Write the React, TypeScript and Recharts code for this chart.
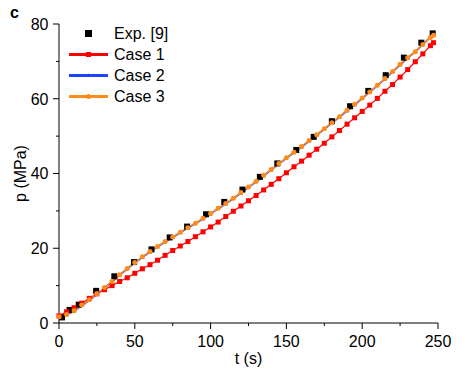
import React from "react";
import {
  ComposedChart,
  Line,
  Scatter,
  XAxis,
  YAxis,
  Legend,
} from "recharts";

const FONT = "'Liberation Sans', Arial, Helvetica, sans-serif";

// simulation time grid (s)
const SIM_T = [
  0, 5, 10, 15, 20, 25, 30, 35, 40, 45, 50, 55, 60, 65, 70, 75, 80, 85, 90, 95,
  100, 105, 110, 115, 120, 125, 130, 135, 140, 145, 150, 155, 160, 165, 170, 175,
  180, 185, 190, 195, 200, 205, 210, 215, 220, 225, 230, 235, 240, 245, 247,
];

// pressure (MPa)
const CASE1_P = [
  1.9, 3.0, 4.1, 5.3, 6.6, 7.8, 8.9, 10.0, 11.1, 12.1, 13.3, 14.5, 15.6, 16.8,
  18.1, 19.4, 20.6, 21.8, 23.1, 24.4, 25.7, 27.0, 28.5, 29.9, 31.3, 32.7, 34.1,
  35.6, 37.1, 38.6, 40.2, 41.8, 43.3, 44.9, 46.5, 48.1, 49.8, 51.5, 53.2, 54.9,
  56.6, 58.3, 60.1, 62.0, 63.8, 65.8, 67.8, 69.9, 72.0, 74.2, 75.0,
];
const CASE2_P = [
  1.6, 2.2, 3.2, 4.7, 6.1, 7.7, 9.4, 11.0, 12.8, 14.5, 16.1, 17.6, 19.0, 20.4,
  21.7, 22.9, 24.2, 25.4, 26.6, 27.9, 29.2, 30.6, 31.9, 33.3, 34.8, 36.3, 37.8,
  39.4, 41.0, 42.6, 44.1, 45.6, 47.1, 48.7, 50.3, 51.9, 53.5, 55.1, 56.8, 58.4,
  60.1, 61.8, 63.5, 65.3, 67.2, 69.1, 70.9, 72.6, 74.5, 76.5, 77.2,
];
const CASE3_P = [
  1.7, 2.3, 3.3, 4.8, 6.2, 7.8, 9.5, 11.1, 12.9, 14.6, 16.2, 17.7, 19.1, 20.5,
  21.8, 23.0, 24.3, 25.5, 26.7, 28.0, 29.3, 30.7, 32.0, 33.4, 34.9, 36.4, 37.9,
  39.5, 41.1, 42.7, 44.2, 45.7, 47.2, 48.8, 50.4, 52.0, 53.6, 55.2, 56.9, 58.5,
  60.2, 61.8, 63.6, 65.4, 67.3, 69.2, 71.0, 72.6, 74.5, 76.4, 77.0,
];

// experiment [9]
const EXP_T = [
  2, 7, 13, 24.5, 36.5, 49.5, 61, 73, 84.5, 97, 109, 121, 132.5, 144, 156.5,
  168, 180, 192, 204, 215.5, 227.5, 239, 246.5,
];
const EXP_P = [
  1.5, 3.5, 4.9, 8.6, 12.5, 16.3, 19.7, 22.9, 25.8, 29.1, 32.4, 35.7, 39.1,
  42.7, 46.3, 49.8, 54.0, 58.0, 62.1, 66.3, 71.0, 75.0, 77.5,
];

const X_TICKS = [0, 25, 50, 75, 100, 125, 150, 175, 200, 225, 250];
const Y_TICKS = [0, 10, 20, 30, 40, 50, 60, 70, 80];

const SERIES_NAMES = ["Exp. [9]", "Case 1", "Case 2", "Case 3"];

const STYLE: Record<string, { color: string; kind: string; line: boolean; size: number }> = {
  "Exp. [9]": { color: "#000000", kind: "square", line: false, size: 6 },
  "Case 1": { color: "#ff0000", kind: "square", line: true, size: 5 },
  "Case 2": { color: "#1a44ff", kind: "triangle", line: true, size: 4 },
  "Case 3": { color: "#ff8c1a", kind: "circle", line: true, size: 5 },
};

const rows = (ts: number[], ps: number[]) => ts.map((t, i) => ({ t, p: ps[i] }));

function marker(kind: string, cx: number, cy: number, color: string, s: number) {
  if (kind === "square")
    return <rect x={cx - s / 2} y={cy - s / 2} width={s} height={s} fill={color} />;
  if (kind === "circle") return <circle cx={cx} cy={cy} r={s / 2} fill={color} />;
  const h = s * 0.9;
  return (
    <polygon
      points={`${cx},${cy - h * 0.6} ${cx - s / 2},${cy + h * 0.4} ${cx + s / 2},${cy + h * 0.4}`}
      fill={color}
    />
  );
}

const dotFor = (name: string) => (props: any) => {
  const st = STYLE[name];
  return (
    <g key={`${name}-${props.index}`}>
      {marker(st.kind, props.cx, props.cy, st.color, st.size)}
    </g>
  );
};

function XTick({ x, y, payload }: any) {
  const major = payload.value % 50 === 0;
  return (
    <g>
      <line x1={x} x2={x} y1={y} y2={y + (major ? 6 : 3)} stroke="#000" />
      {major && (
        <text x={x} y={y + 24} textAnchor="middle" fontSize={16} fontFamily={FONT} fill="#000">
          {payload.value}
        </text>
      )}
    </g>
  );
}

function YTick({ x, y, payload }: any) {
  const major = payload.value % 20 === 0;
  return (
    <g>
      <line x1={x - (major ? 6 : 3)} x2={x} y1={y} y2={y} stroke="#000" />
      {major && (
        <text x={x - 10.5} y={y} dy="0.36em" textAnchor="end" fontSize={16} fontFamily={FONT} fill="#000">
          {payload.value}
        </text>
      )}
    </g>
  );
}

// legend keeps the figure's own order (experiment first)
function LegendBox() {
  return (
    <svg width={130} height={SERIES_NAMES.length * 21} style={{ display: "block", overflow: "visible" }}>
      {SERIES_NAMES.map((name, i) => {
        const st = STYLE[name];
        const y = 10.5 + i * 21;
        return (
          <g key={name}>
            {st.line && <line x1={4} x2={43} y1={y} y2={y} stroke={st.color} strokeWidth={3} />}
            {marker(st.kind, 23.5, y, st.color, st.line ? st.size : 7)}
            <text x={49} y={y} dy="0.36em" fontSize={16} fontFamily={FONT} fill="#000">
              {name}
            </text>
          </g>
        );
      })}
    </svg>
  );
}

export default function App() {
  return (
    <div
      style={{
        position: "absolute",
        left: 0,
        top: 0,
        width: 465,
        height: 371,
        background: "#fff",
        fontFamily: FONT,
      }}
    >
      <div
        style={{
          position: "absolute",
          left: 10,
          top: 4,
          fontSize: 16,
          fontWeight: "bold",
          fontFamily: FONT,
        }}
      >
        c
      </div>
      <ComposedChart
        width={465}
        height={371}
        margin={{ top: 24, right: 27, bottom: 4, left: 0 }}
      >
        <XAxis
          dataKey="t"
          type="number"
          domain={[0, 250]}
          ticks={X_TICKS}
          interval={0}
          height={44}
          tickSize={0}
          tickMargin={0}
          tickLine={false}
          tick={<XTick />}
          axisLine={{ stroke: "#000" }}
          label={{
            value: "t (s)",
            position: "insideBottom",
            offset: 3,
            style: { fontSize: 16, fontFamily: FONT, fill: "#000" },
          }}
        />
        <YAxis
          dataKey="p"
          type="number"
          domain={[0, 80]}
          ticks={Y_TICKS}
          interval={0}
          width={59}
          tickSize={0}
          tickMargin={0}
          tickLine={false}
          tick={<YTick />}
          axisLine={{ stroke: "#000" }}
          label={{
            value: "p (MPa)",
            angle: -90,
            position: "insideLeft",
            offset: 20,
            style: { fontSize: 16, fontFamily: FONT, fill: "#000", textAnchor: "middle" },
          }}
        />
        <Legend
          layout="vertical"
          align="center"
          verticalAlign="middle"
          content={() => <LegendBox />}
          wrapperStyle={{ left: 65, top: 23 }}
        />
        <Scatter
          name="Exp. [9]"
          data={rows(EXP_T, EXP_P)}
          fill="#000"
          isAnimationActive={false}
          shape={(p: any) => marker("square", p.cx, p.cy, "#000", 6)}
        />
        <Line
          name="Case 1"
          data={rows(SIM_T, CASE1_P)}
          dataKey="p"
          type="linear"
          stroke={STYLE["Case 1"].color}
          strokeWidth={1.2}
          dot={dotFor("Case 1")}
          activeDot={false}
          isAnimationActive={false}
        />
        <Line
          name="Case 2"
          data={rows(SIM_T, CASE2_P)}
          dataKey="p"
          type="linear"
          stroke={STYLE["Case 2"].color}
          strokeWidth={1.8}
          dot={dotFor("Case 2")}
          activeDot={false}
          isAnimationActive={false}
        />
        <Line
          name="Case 3"
          data={rows(SIM_T, CASE3_P)}
          dataKey="p"
          type="linear"
          stroke={STYLE["Case 3"].color}
          strokeWidth={1.5}
          dot={dotFor("Case 3")}
          activeDot={false}
          isAnimationActive={false}
        />
      </ComposedChart>
    </div>
  );
}
